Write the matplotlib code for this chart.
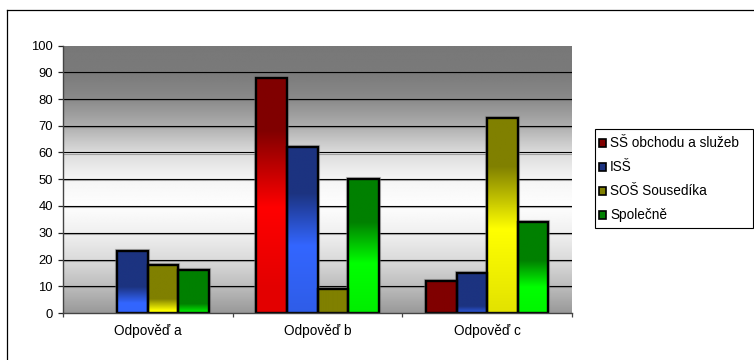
import numpy as np
import matplotlib
matplotlib.use("Agg")
import matplotlib.pyplot as plt
from matplotlib.patches import Rectangle
from matplotlib.colors import to_rgb

plt.rcParams['font.family'] = ['Liberation Sans', 'DejaVu Sans']

# --- data ---------------------------------------------------------------
categories = ["Odpověď a", "Odpověď b", "Odpověď c"]
series_names = ["SŠ obchodu a služeb", "ISŠ", "SOŠ Sousedíka", "Společně"]
ss_obchodu = [0, 88, 12]
iss = [23, 62, 15]
sos_sousedika = [18, 9, 73]
spolecne = [16, 50, 34]
series_values = [ss_obchodu, iss, sos_sousedika, spolecne]
y_ticks = list(range(0, 101, 10))

# dark (top) and bright colours of each series' vertical gradient
dark_cols = ["#800000", "#1c3380", "#808000", "#008000"]
bright_cols = ["#ff0000", "#3366ff", "#ffff00", "#00ff00"]

FS_Y = 9.4
FS_TXT = 9.8

W, H = 754, 360
fig = plt.figure(figsize=(W / 100, H / 100), dpi=100)
fig.patch.set_facecolor("white")

# chart frame (only top and left edges fall inside the canvas)
fig.add_artist(plt.Line2D([7 / W, 7 / W], [0, 1 - 10 / H], color="black", lw=0.9,
                          transform=fig.transFigure))
fig.add_artist(plt.Line2D([7 / W, 1], [1 - 10 / H, 1 - 10 / H], color="black", lw=0.9,
                          transform=fig.transFigure))

left, right, top, bottom = 63, 572, 45.5, 313
ax = fig.add_axes([left / W, 1 - bottom / H, (right - left) / W, (bottom - top) / H])
ax.set_xlim(0, 3)
ax.set_ylim(0, 100)

# plot-area background: grey at top, white in the middle, grey at the bottom
stops_y = [0, 10, 20, 30, 40, 50, 60, 70, 80, 90, 100]
stops_v = [0.60, 0.74, 0.86, 0.94, 0.995, 0.96, 0.86, 0.68, 0.54, 0.48, 0.47]
yy = np.linspace(0, 100, 400)
vv = np.interp(yy, stops_y, stops_v)
bg = np.repeat(vv[:, None], 2, axis=1)
ax.imshow(bg, extent=(0, 3, 0, 100), origin="lower", aspect="auto", cmap="gray",
          vmin=0, vmax=1, zorder=0, interpolation="bilinear")

# gridlines with a soft shadow underneath
px = 100 / (bottom - top)
for yv in y_ticks[1:-1]:
    ax.axhline(yv - 1.1 * px, color="#6f6f6f", lw=0.8, alpha=0.55, zorder=1)
    ax.axhline(yv, color="black", lw=0.8, zorder=1.2)

# bars
bar_w = 0.18
offset0 = (1 - 4 * bar_w) / 2
x = np.arange(len(categories))


def gradient_for(h, dark, bright):
    n = 300
    ys = np.linspace(0, h, n)
    t = h - ys  # distance from the bar top
    t_d = 11 + 0.1 * h
    t_b = 9 + 0.45 * h
    m = np.clip((t - t_d) / max(t_b - t_d, 1e-6), 0, 1)
    below = np.clip((t - t_b) / 30.0, 0, 1)
    m = m * (1 - 0.22 * below)
    d = np.array(to_rgb(dark))
    b = np.array(to_rgb(bright))
    rgb = d[None, :] * (1 - m[:, None]) + b[None, :] * m[:, None]
    return np.repeat(rgb[:, None, :], 2, axis=1)


for j, (vals, dc, bc) in enumerate(zip(series_values, dark_cols, bright_cols)):
    xpos = x + offset0 + j * bar_w
    bars = ax.bar(xpos, vals, width=bar_w, align="edge", facecolor="none",
                  edgecolor="black", linewidth=1.7, zorder=4)
    for rect, v in zip(bars, vals):
        if v <= 0:
            rect.set_visible(False)
            continue
        x0 = rect.get_x()
        x1 = x0 + rect.get_width()
        ax.imshow(gradient_for(v, dc, bc), extent=(x0, x1, 0, v), origin="lower",
                  aspect="auto", zorder=3, interpolation="bilinear")
        sh = Rectangle((x0, 0), rect.get_width(), v, facecolor="none",
                       edgecolor="#777777", lw=3.0, alpha=0.45, zorder=2.5)
        ax.add_patch(sh)
ax.set_xlim(0, 3)
ax.set_ylim(0, 100)

# axes styling
for s in ["top", "right"]:
    ax.spines[s].set_visible(False)
for s in ["left", "bottom"]:
    ax.spines[s].set_color("#444444")
    ax.spines[s].set_linewidth(1.0)
    ax.spines[s].set_zorder(6)

ax.set_yticks(y_ticks)
ax.set_yticklabels([str(v) for v in y_ticks], fontsize=FS_Y)
ax.tick_params(axis="y", direction="out", length=3.6, width=0.9, pad=3.6, colors="#222222")

ax.set_xticks([0, 1, 2, 3])
ax.set_xticklabels([])
ax.tick_params(axis="x", which="major", direction="out", length=3.2, width=0.9, colors="#444444")
ax.set_xticks([0.5, 1.5, 2.5], minor=True)
ax.set_xticklabels(categories, minor=True, fontsize=FS_TXT)
ax.tick_params(axis="x", which="minor", length=0, pad=8.0, labelcolor="black")
for lab in ax.get_yticklabels():
    lab.set_color("black")

# legend box
lx0, ly0, lx1, ly1 = 595, 128.5, 753, 228
fig.add_artist(Rectangle((lx0 / W, 1 - ly1 / H), (lx1 - lx0) / W, (ly1 - ly0) / H,
                         transform=fig.transFigure, facecolor="white",
                         edgecolor="black", lw=0.8))
row_y = [142.7, 167.0, 191.0, 215.0]
for name, dc, ry in zip(series_names, dark_cols, row_y):
    fig.add_artist(Rectangle((599 / W, 1 - (ry + 3.8) / H), 7 / W, 7.6 / H,
                             transform=fig.transFigure, facecolor=dc,
                             edgecolor="black", lw=1.2))
    fig.text(610 / W, 1 - ry / H, name, fontsize=FS_TXT, ha="left", va="center",
             color="black")

fig.savefig("out.png", dpi=100)
